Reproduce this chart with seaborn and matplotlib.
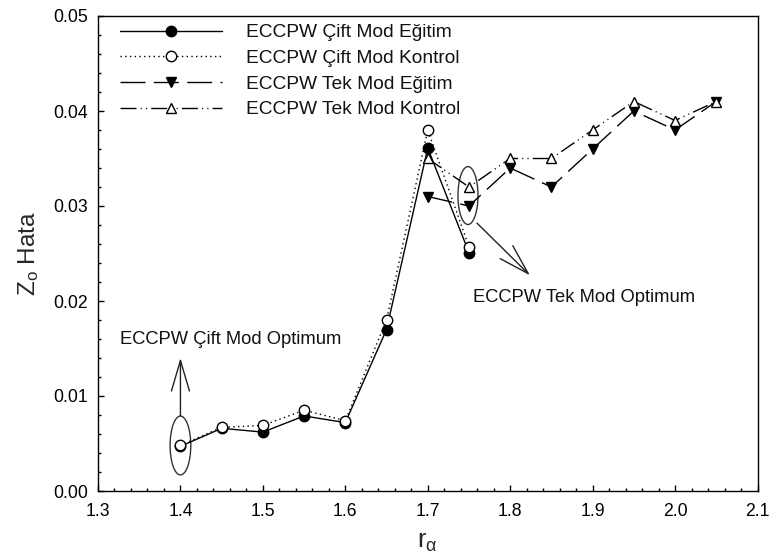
import matplotlib
matplotlib.use("Agg")
import matplotlib.pyplot as plt
from matplotlib.patches import Ellipse
from matplotlib.ticker import MultipleLocator, FormatStrFormatter
import pandas as pd
import seaborn as sns

# r_alpha values for the two mode families
r_cift = [1.40, 1.45, 1.50, 1.55, 1.60, 1.65, 1.70, 1.75]
r_tek = [1.70, 1.75, 1.80, 1.85, 1.90, 1.95, 2.00, 2.05]

# Z_o error values
cift_egitim = [0.0047, 0.0066, 0.0062, 0.0079, 0.0072, 0.0170, 0.0361, 0.0251]
cift_kontrol = [0.0048, 0.0067, 0.0069, 0.0085, 0.0074, 0.0180, 0.0380, 0.0257]
tek_egitim = [0.0310, 0.0300, 0.0340, 0.0320, 0.0360, 0.0400, 0.0380, 0.0410]
tek_kontrol = [0.0350, 0.0320, 0.0350, 0.0350, 0.0380, 0.0410, 0.0390, 0.0410]

series_names = ["ECCPW Çift Mod Eğitim", "ECCPW Çift Mod Kontrol",
                "ECCPW Tek Mod Eğitim", "ECCPW Tek Mod Kontrol"]

frames = []
for name, xs, ys in zip(series_names,
                        [r_cift, r_cift, r_tek, r_tek],
                        [cift_egitim, cift_kontrol, tek_egitim, tek_kontrol]):
    frames.append(pd.DataFrame({"r": xs, "hata": ys, "seri": name}))
df = pd.concat(frames, ignore_index=True)

sns.set_style("white")
plt.rcParams["font.family"] = ["Liberation Sans", "DejaVu Sans"]
plt.rcParams["mathtext.fontset"] = "custom"
plt.rcParams["mathtext.rm"] = "Liberation Sans"
plt.rcParams["mathtext.it"] = "Liberation Sans:italic"
plt.rcParams["text.color"] = "#111111"

fig = plt.figure(figsize=(7.7, 5.59), dpi=100)
ax = fig.add_axes([98 / 770, 1 - 491 / 559, (757.5 - 98) / 770, (491 - 16) / 559])

styles = [
    dict(linestyle="-", marker="o", markerfacecolor="black"),
    dict(linestyle=(0, (1, 2.4)), marker="o", markerfacecolor="white"),
    dict(linestyle=(0, (18, 6)), marker="v", markerfacecolor="black"),
    dict(linestyle=(0, (11.5, 3, 0.8, 3, 0.8, 3)), marker="^", markerfacecolor="white"),
]

for name, st in zip(series_names, styles):
    sub = df[df["seri"] == name]
    sns.lineplot(data=sub, x="r", y="hata", ax=ax, color="black", lw=1.0,
                 markersize=7.5, markeredgecolor="black", markeredgewidth=1.0,
                 label=name, **st)

# Optimum markers: ellipse + arrow + caption
ax.add_patch(Ellipse((1.400, 0.00479), 0.0251, 0.0062, fill=False,
                     edgecolor="#333333", lw=1.0))
ax.add_patch(Ellipse((1.7488, 0.0311), 0.0243, 0.0061, fill=False,
                     edgecolor="#333333", lw=1.0))

arrow_kw = dict(arrowstyle="->,head_length=2.2,head_width=0.65", lw=1.0,
                color="#222222", shrinkA=0, shrinkB=0, mutation_scale=10)
ax.annotate("", xy=(1.400, 0.0140), xytext=(1.400, 0.0079), arrowprops=arrow_kw)
ax.annotate("", xy=(1.824, 0.0227), xytext=(1.7597, 0.0282), arrowprops=arrow_kw)

ax.text(1.3267, 0.0159, "ECCPW Çift Mod Optimum", fontsize=13.2,
        ha="left", va="center")
ax.text(1.7549, 0.0204, "ECCPW Tek Mod Optimum", fontsize=13.2,
        ha="left", va="center")

ax.set_xlim(1.3, 2.1)
ax.set_ylim(0.0, 0.05)
ax.xaxis.set_major_locator(MultipleLocator(0.1))
ax.xaxis.set_minor_locator(MultipleLocator(0.02))
ax.yaxis.set_major_locator(MultipleLocator(0.01))
ax.yaxis.set_minor_locator(MultipleLocator(0.002))
ax.xaxis.set_major_formatter(FormatStrFormatter("%.1f"))
ax.yaxis.set_major_formatter(FormatStrFormatter("%.2f"))

ax.tick_params(axis="both", which="both", direction="in", top=False, right=False,
               bottom=True, left=True, colors="black", labelsize=12.7)
ax.tick_params(axis="both", which="major", length=4.5, width=1.0)
ax.tick_params(axis="both", which="minor", length=2.5, width=1.0)
ax.tick_params(axis="x", which="major", pad=9)
ax.tick_params(axis="y", which="major", pad=7)

for sp in ax.spines.values():
    sp.set_color("black")
    sp.set_linewidth(1.0)

ax.set_xlabel(r"$\mathregular{r_{α}}$", fontsize=18.5, labelpad=7)
ax.set_ylabel(r"$\mathregular{Z_{o}}$ Hata", fontsize=17.5, labelpad=9)

handles, labels = ax.get_legend_handles_labels()
ax.legend(handles, labels, loc="upper left", bbox_to_anchor=(0.0334, 0.983),
          frameon=False, fontsize=13.8, handlelength=5.3, handletextpad=1.27,
          labelspacing=0.43, borderpad=0, borderaxespad=0, numpoints=1)

fig.savefig("out.png", dpi=100)
